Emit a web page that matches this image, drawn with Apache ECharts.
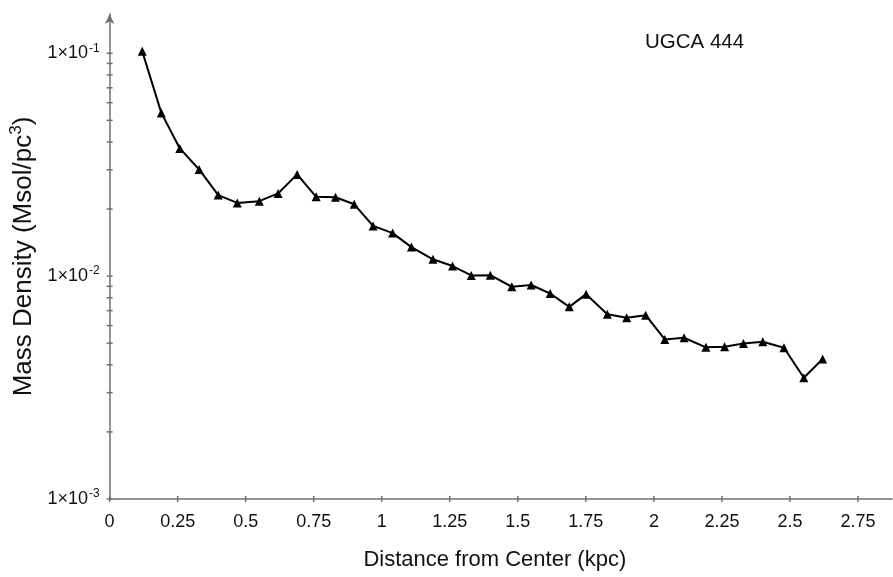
<!DOCTYPE html>
<html>
<head>
<meta charset="utf-8">
<script src="https://cdn.jsdelivr.net/npm/echarts@6/dist/echarts.min.js"></script>
<style>html,body{margin:0;padding:0;background:#fff}#c{width:893px;height:577px}</style>
</head>
<body>
<div id="c"></div>
<script>
const distance = [0.120, 0.190, 0.258, 0.329, 0.399, 0.469, 0.550, 0.619, 0.689, 0.759, 0.830, 0.899,
  0.968, 1.040, 1.109, 1.188, 1.260, 1.329, 1.399, 1.478, 1.549, 1.619, 1.689, 1.751,
  1.829, 1.900, 1.970, 2.040, 2.111, 2.191, 2.260, 2.329, 2.400, 2.478, 2.551, 2.620];
const density = [0.102, 0.0540, 0.0374, 0.0301, 0.0231, 0.0213, 0.0217, 0.0235, 0.0286, 0.0227, 0.0226, 0.0210,
  0.0168, 0.0156, 0.0135, 0.0119, 0.0111, 0.01007, 0.0101, 0.00896, 0.00912, 0.00836, 0.00728, 0.00830,
  0.00675, 0.00650, 0.00668, 0.00520, 0.00529, 0.00479, 0.00482, 0.00499, 0.00508, 0.00477, 0.00350, 0.00425];
const xTicks = [0, 0.25, 0.5, 0.75, 1, 1.25, 1.5, 1.75, 2, 2.25, 2.5, 2.75];
const yMajorTicks = [0.001, 0.01, 0.1];
const yMinorMultipliers = [2, 3, 4, 5, 6, 7, 8, 9];
const yMinorTicks = [];
[0.001, 0.01].forEach(d => yMinorMultipliers.forEach(m => yMinorTicks.push(+(m * d).toPrecision(3))));
const title = 'UGCA 444';

const FONT = 'Liberation Sans, Arial, sans-serif';
const AXIS_COLOR = '#707070';

const chart = echarts.init(document.getElementById('c'));
const points = distance.map((x, i) => [x, density[i]]);
const yTickPts = yMajorTicks.concat(yMinorTicks).map(v => [0, v]);
const xTickPts = xTicks.map(v => [v, 0.001]);

chart.setOption({
  animation: false,
  backgroundColor: '#fff',
  grid: { left: 109, right: 1, top: 14, bottom: 78, containLabel: false },
  xAxis: {
    type: 'value', min: 0, max: 2.875, interval: 0.25,
    splitLine: { show: false },
    axisLine: { lineStyle: { color: AXIS_COLOR, width: 1.5 } },
    axisTick: { show: false },
    axisLabel: {
      color: '#111', fontFamily: FONT, fontSize: 18, margin: 14,
      formatter: v => (v > 2.76 ? '' : String(v)),
      showMaxLabel: false
    },
    name: 'Distance from Center (kpc)', nameLocation: 'middle', nameGap: 50,
    nameTextStyle: { color: '#111', fontFamily: FONT, fontSize: 22, padding: [0, 12, 0, 0] }
  },
  yAxis: {
    type: 'log', logBase: 10, min: 0.001, max: 0.15,
    splitLine: { show: false },
    axisLine: { lineStyle: { color: AXIS_COLOR, width: 1.5 }, symbol: ['none', 'arrow'], symbolSize: [7, 10], symbolOffset: [0, 0] },
    axisTick: { show: false },
    minorTick: { show: false },
    axisLabel: {
      color: '#111', fontFamily: FONT, fontSize: 18, margin: 10,
      showMaxLabel: false,
      formatter: v => {
        const e = Math.round(Math.log10(v));
        if (Math.abs(Math.log10(v) - e) > 1e-6) return '';
        return '1×10{sup|' + e + '}';
      },
      rich: { sup: { fontSize: 12, verticalAlign: 'top', padding: [0, 0, 10, 1], fontFamily: FONT, color: '#111' } }
    },
    name: 'Mass Density (Msol/pc{sup|3})', nameLocation: 'middle', nameGap: 66,
    nameTextStyle: {
      color: '#111', fontFamily: FONT, fontSize: 26,
      rich: { sup: { fontSize: 17, padding: [0, 0, 14, 0], fontFamily: FONT, color: '#111' } }
    }
  },
  graphic: [{
    type: 'text', left: 645, top: 32,
    style: { text: title, font: '20.5px ' + FONT, fill: '#111' }
  }],
  series: [
    {
      type: 'custom', silent: true, clip: false, z: 1,
      data: yTickPts,
      renderItem: (params, api) => {
        const p = api.coord([api.value(0), api.value(1)]);
        return { type: 'line', shape: { x1: p[0] - 3, y1: p[1], x2: p[0] + 3, y2: p[1] }, style: { stroke: AXIS_COLOR, lineWidth: 1.5 } };
      }
    },
    {
      type: 'custom', silent: true, clip: false, z: 1,
      data: xTickPts,
      renderItem: (params, api) => {
        const p = api.coord([api.value(0), api.value(1)]);
        return { type: 'line', shape: { x1: p[0], y1: p[1] - 3, x2: p[0], y2: p[1] + 3 }, style: { stroke: AXIS_COLOR, lineWidth: 1.5 } };
      }
    },
    {
      type: 'line', data: points, z: 3,
      symbol: 'triangle', symbolSize: 9,
      itemStyle: { color: '#000' },
      lineStyle: { color: '#000', width: 2 }
    }
  ]
});
</script>
</body>
</html>
